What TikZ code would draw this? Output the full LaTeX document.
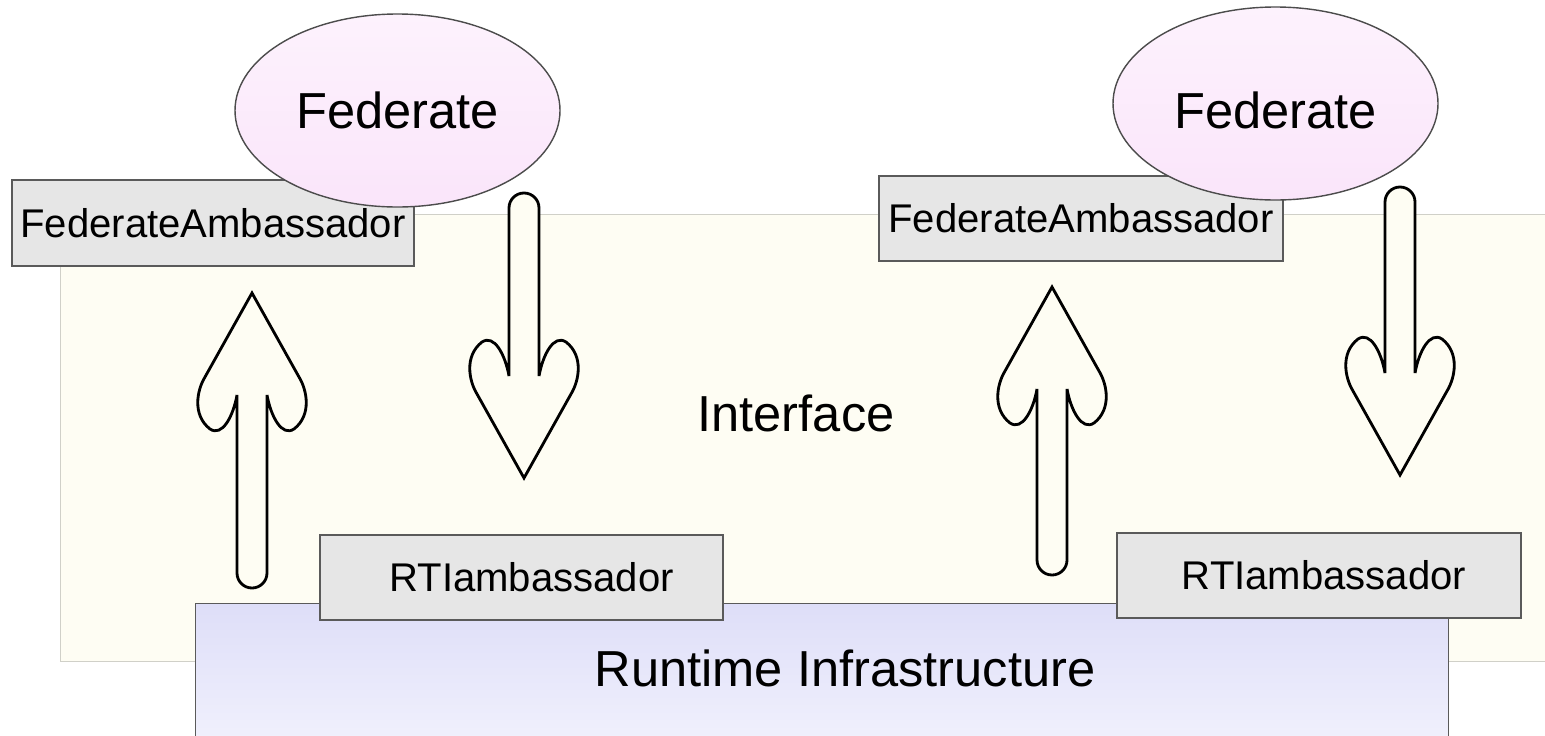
\documentclass[tikz,border=0pt]{standalone}
\usepackage{fontspec}
\setmainfont{Liberation Sans}
\usepackage{tikz}
\usetikzlibrary{shapes.geometric}
\definecolor{ifaceback}{RGB}{254,253,243}
\definecolor{ifaceline}{RGB}{208,208,200}
\definecolor{ambfill}{RGB}{230,230,230}
\definecolor{ambline}{RGB}{90,90,90}
\definecolor{fedtop}{RGB}{253,242,253}
\definecolor{fedbottom}{RGB}{250,229,250}
\definecolor{rtitop}{RGB}{222,222,248}
\definecolor{rtibottom}{RGB}{242,242,253}

% hollow block arrow, tip at #1, turned by #2, total length #3
\newcommand{\blockarrow}[3]{%
  \draw[arrowline, shift={#1}, rotate=#2]
    (0,0) -- (-0.47,-0.84)
    .. controls (-0.55,-0.97) and (-0.60,-1.22) .. (-0.42,-1.36)
    .. controls (-0.30,-1.44) and (-0.19,-1.24) .. (-0.15,-1.02)
    -- (-0.15,{0.15-#3})
    arc[start angle=180, end angle=360, radius=0.15]
    -- (0.15,-1.02)
    .. controls (0.19,-1.24) and (0.30,-1.44) .. (0.42,-1.36)
    .. controls (0.60,-1.22) and (0.55,-0.97) .. (0.47,-0.84)
    -- cycle;}

\begin{document}
\begin{tikzpicture}[
    bigfont/.style={font=\fontsize{14.4}{17}\selectfont},
    ifacebox/.style={draw=ifaceline, fill=ifaceback, rectangle, inner sep=0pt},
    ambbox/.style={draw=ambline, fill=ambfill, rectangle, inner sep=0pt, font=\fontsize{11.4}{13.5}\selectfont},
    fedellipse/.style={draw=black!70, ellipse, inner sep=0pt, top color=fedtop, bottom color=fedbottom, bigfont},
    rtibox/.style={draw=ambline, rectangle, inner sep=0pt, top color=rtitop, bottom color=rtibottom},
    arrowline/.style={draw=black, line width=0.8pt, fill=ifaceback}
  ]
    \useasboundingbox (0,0) rectangle (15.45,7.35);

    \node[ifacebox, minimum width=15.2cm, minimum height=4.47cm, anchor=south west] (iface) at (0.60,0.73) {};
    \node[bigfont] (ifacelabel) at (7.96,3.22) {Interface};

    \node[ambbox, minimum width=4.02cm, minimum height=0.86cm] (fedamb1) at (2.13,5.12) {FederateAmbassador};
    \node[ambbox, minimum width=4.04cm, minimum height=0.85cm] (fedamb2) at (10.81,5.165) {FederateAmbassador};

    \node[fedellipse, minimum width=3.25cm, minimum height=1.93cm] (fed1) at (3.975,6.245) {Federate};
    \node[fedellipse, minimum width=3.25cm, minimum height=1.93cm] (fed2) at (12.755,6.315) {\raisebox{-0.07cm}[\height][0pt]{Federate}};

    \blockarrow{(2.52,4.42)}{0}{2.95}
    \blockarrow{(5.24,2.57)}{180}{2.85}
    \blockarrow{(10.52,4.48)}{0}{2.88}
    \blockarrow{(14.00,2.60)}{180}{2.88}

    \node[rtibox, minimum width=12.53cm, minimum height=1.5cm, anchor=north west] (rti) at (1.95,1.32) {};
    \node[bigfont] (rtilabel) at (8.45,0.67) {Runtime Infrastructure};

    \node[ambbox, minimum width=4.03cm, minimum height=0.85cm] (rtiamb1) at (5.215,1.575) {\hspace{0.2cm}RTIambassador};
    \node[ambbox, minimum width=4.04cm, minimum height=0.85cm] (rtiamb2) at (13.19,1.595) {\hspace{0.1cm}RTIambassador};
\end{tikzpicture}
\end{document}
